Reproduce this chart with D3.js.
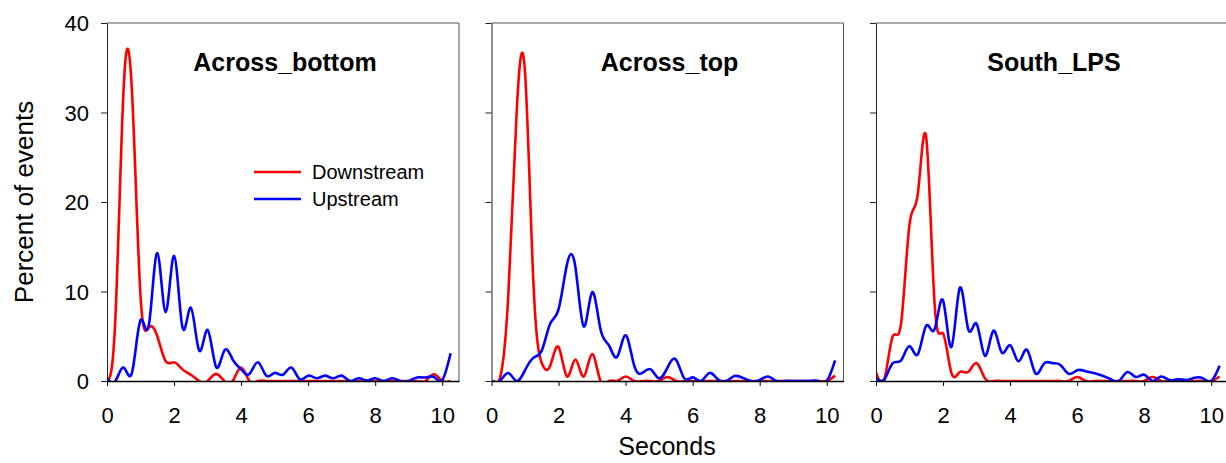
<!DOCTYPE html>
<html>
<head>
<meta charset="utf-8">
<script src="https://cdn.jsdelivr.net/npm/d3@7"></script>
<style>
  body { margin: 0; background: #fff; }
  svg { font-family: "Liberation Sans", Arial, sans-serif; }
</style>
</head>
<body>
<svg id="chart" width="1226" height="463"></svg>
<script>
// time bins (seconds)
const seconds = [0, 0.25, 0.5, 0.75, 1, 1.25, 1.5, 1.75, 2, 2.25, 2.5, 2.75, 3, 3.25, 3.5, 3.75,
  4, 4.25, 4.5, 4.75, 5, 5.25, 5.5, 5.75, 6, 6.25, 6.5, 6.75, 7, 7.25, 7.5, 7.75,
  8, 8.25, 8.5, 8.75, 9, 9.25, 9.5, 9.75, 10, 10.25];

const panelNames = ["Across_bottom", "Across_top", "South_LPS"];
const seriesNames = ["Downstream", "Upstream"];
const seriesColors = ["#ff0000", "#0000ff"];

// percent of events
const downBottom = [0, 7, 33, 32, 9.5, 6.0, 5.0, 2.2, 2.1, 1.3, 0.7, 0, 0, 0.8, 0, 0,
  1.5, 0, 0, 0, 0, 0, 0, 0, 0, 0, 0, 0, 0, 0, 0, 0,
  0, 0, 0, 0, 0, 0, 0, 0.75, 0, 0];
const upBottom = [0.3, 0, 1.5, 1.0, 6.8, 6.3, 14.3, 7.7, 14.0, 6.0, 8.2, 3.4, 5.7, 1.6, 3.4, 2.4,
  1.3, 0.8, 2.1, 0.6, 0.9, 0.7, 1.5, 0.2, 0.6, 0.3, 0.6, 0.3, 0.6, 0, 0.3, 0.05,
  0.3, 0, 0.3, 0, 0, 0.4, 0.4, 0.45, 0.1, 3.1];

const downTop = [0, 0.3, 9.5, 30, 34.5, 11, 2.0, 1.7, 3.8, 0.5, 2.4, 0.5, 3.0, 0, 0, 0,
  0.5, 0, 0, 0, 0, 0.45, 0, 0, 0, 0, 0, 0, 0, 0, 0, 0,
  0, 0, 0, 0, 0, 0, 0, 0, 0, 0.6];
const upTop = [0, 0, 0.9, 0, 1.2, 2.6, 3.4, 6.4, 8.0, 13.0, 12.8, 6.1, 9.9, 5.8, 4.0, 2.7,
  5.1, 1.8, 0.9, 1.3, 0.3, 1.5, 2.4, 0.3, 0.4, 0, 0.9, 0.2, 0, 0.55, 0.35, 0,
  0.1, 0.5, 0, 0, 0, 0, 0, 0, 0, 2.3];

const downSouth = [1.0, 0.2, 5.0, 6.5, 17.5, 21, 27.1, 8.5, 5.3, 0.9, 1.0, 1.0, 2.0, 0.3, 0, 0,
  0, 0, 0, 0, 0, 0, 0, 0, 0.45, 0, 0, 0, 0, 0, 0, 0,
  0, 0.45, 0, 0, 0, 0, 0, 0, 0, 0.5];
const upSouth = [0.35, 0.2, 2.0, 2.3, 3.9, 3.0, 6.2, 5.8, 9.0, 3.8, 10.4, 5.8, 6.4, 2.8, 5.6, 3.2,
  4.0, 2.2, 3.5, 0.9, 1.9, 2.0, 1.8, 0.8, 1.2, 1.1, 0.9, 0.6, 0.2, 0, 1.0, 0.45,
  0.7, 0, 0.5, 0.1, 0.2, 0.1, 0.35, 0.3, 0, 1.7];

const xTicks = [0, 2, 4, 6, 8, 10];
const yTicks = [0, 10, 20, 30, 40];

const panelSeries = [[downBottom, upBottom], [downTop, upTop], [downSouth, upSouth]];

// layout
const marginLeft = 107, marginTop = 23;
const pw = 352, ph = 358, panelStep = 384.5;

const svg = d3.select("#chart");

const x = d3.scaleLinear().domain([0, 10.5]).range([0, pw]);
const y = d3.scaleLinear().domain([0, 40]).range([ph, 0]);

const line = d3.line()
  .x((d, i) => x(seconds[i]))
  .y(d => y(d))
  .curve(d3.curveNatural);

panelNames.forEach((name, p) => {
  const g = svg.append("g")
    .attr("transform", `translate(${marginLeft + p * panelStep},${marginTop})`);

  g.append("clipPath").attr("id", "clip" + p)
    .append("rect").attr("x", 0).attr("y", 0).attr("width", pw).attr("height", ph);

  // frame: top + right
  g.append("path")
    .attr("d", `M0,0H${pw}V${ph}`)
    .attr("fill", "none")
    .attr("stroke", "#555")
    .attr("stroke-width", 1);

  // curves
  panelSeries[p].forEach((vals, s) => {
    g.append("path")
      .datum(vals)
      .attr("clip-path", `url(#clip${p})`)
      .attr("fill", "none")
      .attr("stroke", seriesColors[s])
      .attr("stroke-width", 2.6)
      .attr("stroke-linejoin", "round")
      .attr("d", line);
  });

  // x axis
  const xa = g.append("g")
    .attr("transform", `translate(0,${ph})`)
    .call(d3.axisBottom(x).tickValues(xTicks).tickSize(5).tickSizeOuter(0).tickPadding(21));
  xa.select(".domain").attr("stroke", "#000").attr("stroke-width", 1.5);
  xa.selectAll(".tick line").attr("stroke", "#000");
  xa.selectAll("text").attr("font-size", 22).attr("fill", "#000");

  // y axis
  const ya = g.append("g")
    .call(d3.axisLeft(y).tickValues(yTicks).tickSize(6).tickSizeOuter(0).tickPadding(12)
      .tickFormat(p === 0 ? d3.format("d") : ""));
  ya.select(".domain").attr("stroke", "#222");
  ya.selectAll(".tick line").attr("stroke", "#222");
  ya.selectAll("text").attr("font-size", 22).attr("fill", "#000").attr("dy", "0.36em");

  // panel title
  g.append("text")
    .attr("x", pw / 2 + 2)
    .attr("y", 48)
    .attr("text-anchor", "middle")
    .attr("font-size", 25)
    .attr("font-weight", "bold")
    .text(name);

  // legend in first panel
  if (p === 0) {
    seriesNames.forEach((sn, s) => {
      const ly = 149 + s * 27;
      g.append("line")
        .attr("x1", 147).attr("x2", 194)
        .attr("y1", ly).attr("y2", ly)
        .attr("stroke", seriesColors[s])
        .attr("stroke-width", 2.6);
      g.append("text")
        .attr("x", 205).attr("y", ly + 7)
        .attr("font-size", 20)
        .text(sn);
    });
  }
});

// axis titles
svg.append("text")
  .attr("x", 667).attr("y", 455)
  .attr("text-anchor", "middle")
  .attr("font-size", 25)
  .text("Seconds");

svg.append("text")
  .attr("transform", "translate(33,202) rotate(-90)")
  .attr("text-anchor", "middle")
  .attr("font-size", 26)
  .text("Percent of events");
</script>
</body>
</html>
